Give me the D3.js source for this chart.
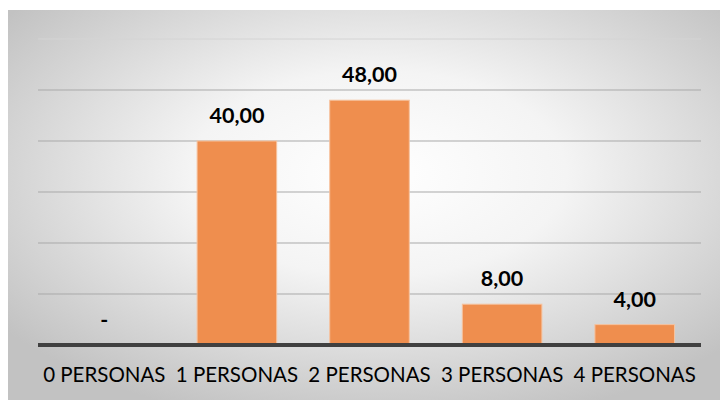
<!DOCTYPE html>
<html>
<head>
<meta charset="utf-8">
<script src="https://cdn.jsdelivr.net/npm/d3@7"></script>
<style>
  html, body { margin: 0; padding: 0; background: #ffffff; }
  svg { display: block; }
</style>
</head>
<body>
<svg id="chart" width="721" height="400"></svg>
<script>
// Household size distribution (percent)
const categories = ["0 PERSONAS", "1 PERSONAS", "2 PERSONAS", "3 PERSONAS", "4 PERSONAS"];
const values = [0, 40, 48, 8, 4];
const gridTicks = [0, 10, 20, 30, 40, 50, 60];

const svg = d3.select("#chart");
const W = 721, H = 400;
const plot = { left: 38, right: 701, top: 39, bottom: 345 };

// Chart area background: soft radial fade from white to grey
const defs = svg.append("defs");
const grad = defs.append("radialGradient")
  .attr("id", "bgGrad")
  .attr("cx", "52%").attr("cy", "42%").attr("r", "66%");
grad.append("stop").attr("offset", "0%").attr("stop-color", "#ffffff");
grad.append("stop").attr("offset", "40%").attr("stop-color", "#f4f4f4");
grad.append("stop").attr("offset", "100%").attr("stop-color", "#c2c2c2");

svg.append("rect")
  .attr("x", 8).attr("y", 10)
  .attr("width", 712).attr("height", H - 10)
  .attr("fill", "url(#bgGrad)");

const x = d3.scaleBand()
  .domain(categories)
  .range([plot.left, plot.right])
  .paddingInner(0.4)
  .paddingOuter(0.2);

const y = d3.scaleLinear()
  .domain([0, 60])
  .range([plot.bottom, plot.top]);

// Horizontal gridlines
svg.append("g")
  .selectAll("line")
  .data(gridTicks.filter(d => d > 0))
  .join("line")
  .attr("x1", plot.left).attr("x2", plot.right)
  .attr("y1", d => y(d)).attr("y2", d => y(d))
  .attr("stroke", d => d === 60 ? "#d4d4d4" : "#a9a9a9")
  .attr("stroke-width", 1);

// Bars
svg.append("g")
  .selectAll("rect")
  .data(values)
  .join("rect")
  .attr("x", (d, i) => x(categories[i]))
  .attr("y", d => y(d))
  .attr("width", x.bandwidth())
  .attr("height", d => y(0) - y(d))
  .attr("fill", "#ef8e4e")
  .attr("stroke", "#f6c29e")
  .attr("stroke-width", 1);

// Category axis line
svg.append("line")
  .attr("x1", plot.left).attr("x2", plot.right)
  .attr("y1", y(0)).attr("y2", y(0))
  .attr("stroke", "#404040")
  .attr("stroke-width", 4);

// Value labels
const fmt = v => v === 0 ? "-" : d3.format(".2f")(v).replace(".", ",");
svg.append("g")
  .selectAll("text")
  .data(values)
  .join("text")
  .attr("x", (d, i) => x(categories[i]) + x.bandwidth() / 2)
  .attr("y", d => y(d) - 18)
  .attr("text-anchor", "middle")
  .attr("font-family", "Lato, 'Open Sans', sans-serif")
  .attr("font-weight", "bold")
  .attr("font-size", 21.5)
  .attr("fill", "#000000")
  .text(d => fmt(d));

// Category labels
const xAxis = d3.axisBottom(x).tickSize(0).tickPadding(0);
const gx = svg.append("g")
  .attr("transform", `translate(0, ${y(0)})`)
  .call(xAxis);
gx.select(".domain").remove();
gx.selectAll("text")
  .attr("dy", 0)
  .attr("y", 37)
  .attr("font-family", "Lato, 'Open Sans', sans-serif")
  .attr("font-size", 20.5)
  .attr("fill", "#000000");
</script>
</body>
</html>
